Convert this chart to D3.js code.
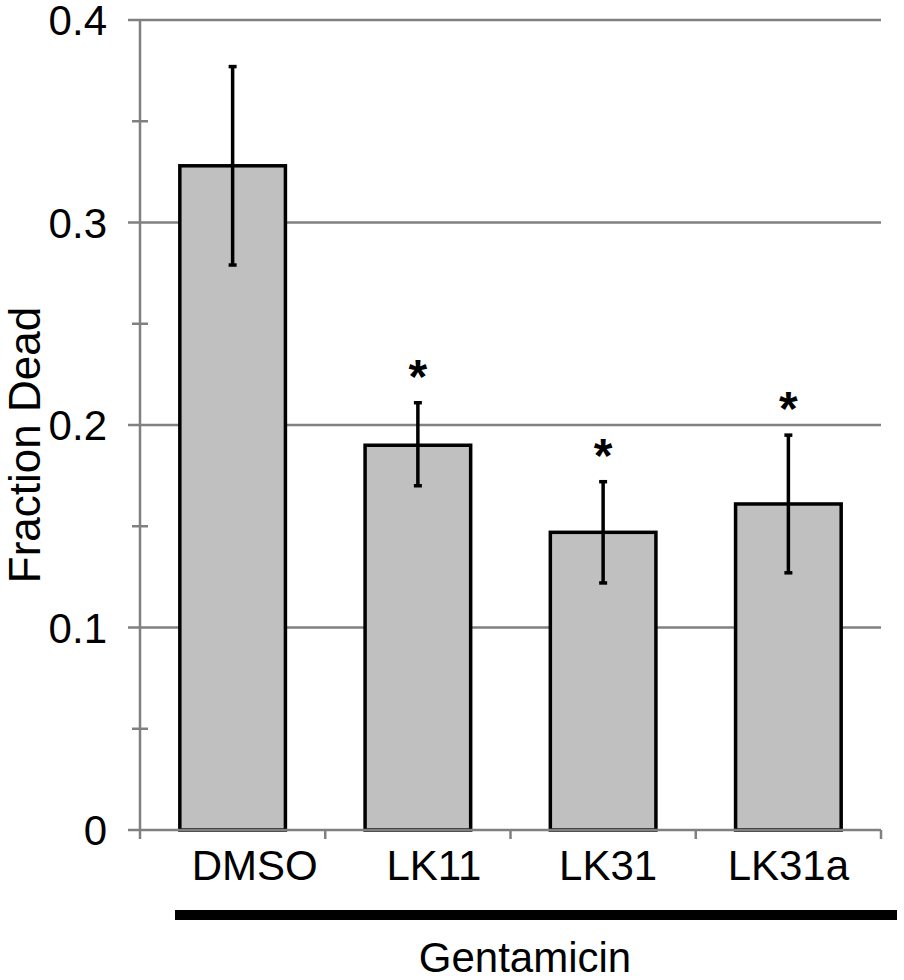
<!DOCTYPE html>
<html>
<head>
<meta charset="utf-8">
<script src="https://cdn.jsdelivr.net/npm/d3@7"></script>
<style>
  body { margin: 0; background: #fff; }
  text { font-family: "Liberation Sans", Arial, sans-serif; fill: #000; }
</style>
</head>
<body>
<script>
const WIDTH = 904, HEIGHT = 980;
const LEFT = 140, RIGHT = 881, TOP = 20, BOTTOM = 830;
// the category labels in the original sit a little right of their bars
const LABEL_NUDGE = [22, 16, 5, 0];

// data
const categories = ["DMSO", "LK11", "LK31", "LK31a"];
const means = [0.328, 0.190, 0.147, 0.161];
const errLow = [0.279, 0.170, 0.122, 0.127];
const errHigh = [0.377, 0.211, 0.172, 0.195];
const significant = [false, true, true, true];
const majorTicks = [0, 0.1, 0.2, 0.3, 0.4];
const minorTicks = [0.05, 0.15, 0.25, 0.35];
const yLabel = "Fraction Dead";
const groupLabel = "Gentamicin";

let svg = d3.select("body").append("svg")
    .attr("width", WIDTH).attr("height", HEIGHT);

let x = d3.scaleBand().domain(categories).range([LEFT, RIGHT]).paddingInner(0.43).paddingOuter(0.215);
let xb = d3.scaleBand().domain(categories).range([LEFT, RIGHT]);
let y = d3.scaleLinear().domain([0, 0.4]).range([BOTTOM, TOP]);

// gridlines (major ticks stick out left of the axis)
svg.append("g").selectAll("line").data(majorTicks.filter(d => d > 0)).enter()
    .append("line")
    .attr("x1", LEFT - 12).attr("x2", RIGHT)
    .attr("y1", d => y(d)).attr("y2", d => y(d))
    .style("stroke", "#808080").style("stroke-width", 2.5);

// minor ticks cross the axis
svg.append("g").selectAll("line").data(minorTicks).enter()
    .append("line")
    .attr("x1", LEFT - 8).attr("x2", LEFT + 8)
    .attr("y1", d => y(d)).attr("y2", d => y(d))
    .style("stroke", "#808080").style("stroke-width", 2.5);

// y axis line
svg.append("line")
    .attr("x1", LEFT).attr("x2", LEFT)
    .attr("y1", y(0.4)).attr("y2", y(0) + 9)
    .style("stroke", "#808080").style("stroke-width", 2.5);

// tick labels
svg.append("g").selectAll("text").data(majorTicks).enter()
    .append("text")
    .attr("x", 107).attr("y", d => y(d) + 15)
    .attr("text-anchor", "end")
    .style("font-size", "42px")
    .text(d => d === 0 ? "0" : d3.format(".1f")(d));

// bars
svg.append("g").selectAll("rect").data(categories).enter()
    .append("rect")
    .attr("x", d => x(d))
    .attr("y", (d, i) => y(means[i]))
    .attr("width", x.bandwidth())
    .attr("height", (d, i) => y(0) - y(means[i]))
    .style("fill", "#c0c0c0").style("stroke", "#000").style("stroke-width", 3.5);

// x axis with ticks on category boundaries
svg.append("line")
    .attr("x1", LEFT - 12).attr("x2", RIGHT)
    .attr("y1", y(0)).attr("y2", y(0))
    .style("stroke", "#808080").style("stroke-width", 2.5);
svg.append("g").selectAll("line").data(categories.slice(1).map(c => xb(c)).concat([RIGHT])).enter()
    .append("line")
    .attr("x1", d => d).attr("x2", d => d)
    .attr("y1", y(0)).attr("y2", y(0) + 9)
    .style("stroke", "#808080").style("stroke-width", 2.5);

// error bars
let eb = svg.append("g").style("stroke", "#000").style("stroke-width", 3.5);
categories.forEach((c, i) => {
    let cx = x(c) + x.bandwidth() / 2;
    eb.append("line").attr("x1", cx).attr("x2", cx).attr("y1", y(errLow[i])).attr("y2", y(errHigh[i]));
    eb.append("line").attr("x1", cx - 4).attr("x2", cx + 4).attr("y1", y(errLow[i])).attr("y2", y(errLow[i]));
    eb.append("line").attr("x1", cx - 4).attr("x2", cx + 4).attr("y1", y(errHigh[i])).attr("y2", y(errHigh[i]));
});

// asterisks
svg.append("g").selectAll("text").data(categories.filter((c, i) => significant[i])).enter()
    .append("text")
    .attr("x", d => x(d) + x.bandwidth() / 2)
    .attr("y", d => y(errHigh[categories.indexOf(d)]) - 10)
    .attr("text-anchor", "middle")
    .style("font-size", "48px").style("font-weight", "bold")
    .text("*");

// category labels
svg.append("g").selectAll("text").data(categories).enter()
    .append("text")
    .attr("x", (d, i) => xb(d) + xb.bandwidth() / 2 + LABEL_NUDGE[i])
    .attr("y", 880)
    .attr("text-anchor", "middle")
    .style("font-size", "42px")
    .text(d => d);

// gentamicin bar + label
svg.append("line")
    .attr("x1", 175).attr("x2", 897).attr("y1", 915).attr("y2", 915)
    .style("stroke", "#000").style("stroke-width", 10);
svg.append("text")
    .attr("x", 525).attr("y", 972)
    .attr("text-anchor", "middle")
    .style("font-size", "42px")
    .text(groupLabel);

// y label
svg.append("text")
    .attr("transform", "translate(40,445) rotate(-90)")
    .attr("text-anchor", "middle")
    .style("font-size", "44px")
    .text(yLabel);
</script>
</body>
</html>
